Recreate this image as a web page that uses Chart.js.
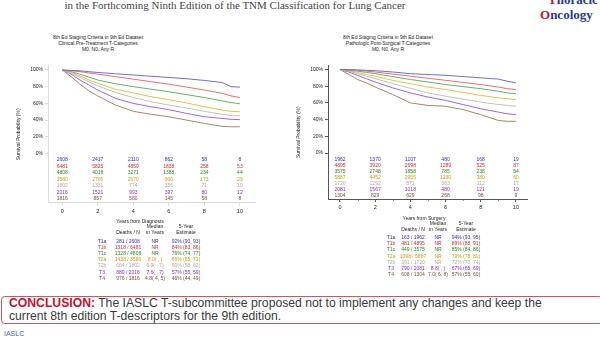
<!DOCTYPE html>
<html>
<head>
<meta charset="utf-8">
<script src="https://cdn.jsdelivr.net/npm/chart.js@4.4.1/dist/chart.umd.min.js"></script>
<style>
  body { margin: 0; width: 600px; height: 338px; overflow: hidden; background: #fff;
         font-family: Arial, "Liberation Sans", sans-serif; position: relative; }
  .abs { position: absolute; white-space: nowrap; }
  .c { transform: translateX(-50%); }
  #headline { left: 235px; top: -1px; font: 11px "Liberation Serif", "Times New Roman", serif; color: #444; }
  #logo1 { left: 548px; top: -8px; font: bold 13px "Liberation Serif", serif; color: #2b3b8c; }
  #logo2 { left: 540px; top: 7px; font: bold 13px "Liberation Serif", serif; color: #2b3b8c; }
  .red { color: #c8102e; }
  .ctitle { font-size: 5px; line-height: 6px; color: #222; text-align: center; }
  canvas { position: absolute; }
  .tbl { font-size: 5px; line-height: 6px; color: #222; }
  #conclusion { left: 1px; top: 296px; width: 593px; height: 26px; border: 1.5px solid #d9515f;
                border-radius: 4px; font-size: 12.2px; line-height: 13px; color: #3a3a3a;
                padding: 0 0 0 7px; box-sizing: content-box; }
  #conclusion b { color: #c8102e; }
  #foot { left: 4px; top: 330px; font-size: 7px; color: #4a63c0; }
</style>
</head>
<body>
<div id="headline" class="abs c">in the Forthcoming Ninth Edition of the TNM Classification for Lung Cancer</div>
<div id="logo1" class="abs"><span class="red">T</span>horacic</div>
<div id="logo2" class="abs"><span class="red">O</span>ncology</div>

<div class="abs c ctitle" style="left:98px; top:34px">8th Ed Staging Criteria in 9th Ed Dataset<br>Clinical Pre-Treatment T-Categories<br>M0, N0, Any R</div>
<div class="abs c ctitle" style="left:388px; top:34px">8th Ed Staging Criteria in 9th Ed Dataset<br>Pathologic Post-Surgical T-Categories<br>M0, N0, Any R</div>

<canvas id="clinical" width="290" height="200" style="left:0; top:28px"></canvas>
<canvas id="pathologic" width="260" height="200" style="left:280px; top:28px"></canvas>

<div id="clinicalTable"></div>
<div id="pathologicTable"></div>

<div id="conclusion" class="abs"><b>CONCLUSION:</b> The IASLC T-subcommittee proposed not to implement any changes and keep the<br>current 8th edition T-descriptors for the 9th edition.</div>
<div id="foot" class="abs">IASLC</div>

<script>
// follow-up times (years) at which the survival curves are sampled
const years = [0, 0.5, 1, 1.5, 2, 3, 4, 5, 6, 7, 8, 9, 9.5, 10];
const tickYears = [0, 2, 4, 6, 8, 10];
const percentTicks = [0, 20, 40, 60, 80, 100];
const categories = ['T1a', 'T1b', 'T1c', 'T2a', 'T2b', 'T3', 'T4'];
const lineColors = ['#6a6af2', '#f26a6a', '#5cb85c', '#eabf40', '#c0c0c0', '#a860e2', '#b08460'];
const textColors = ['#2c2cd8', '#e02424', '#1f8f1f', '#d09a00', '#a8a8a8', '#8a2ad0', '#7a5030'];

// clinical (pre-treatment) survival, %
const clinT1a = [100, 99.5, 99, 98, 97, 95.5, 94, 92.5, 91, 89.5, 87.5, 85, 80, 79.5];
const clinT1b = [100, 99, 98, 96.5, 95, 92, 89, 86, 83, 79.5, 76, 72, 69, 67];
const clinT1c = [100, 98, 95, 91.5, 88, 83.5, 80, 77, 74, 70.5, 67, 63, 61, 59.5];
const clinT2a = [100, 97, 93, 88, 84, 77, 72.5, 68, 64.5, 60.5, 56, 52, 50.5, 50];
const clinT2b = [100, 96, 91, 86, 81, 73, 67, 62, 58, 54.5, 50.5, 47, 45.5, 45];
const clinT3 = [100, 95, 88, 82, 76, 66, 60, 56, 52.5, 48, 44, 42, 41, 40.5];
const clinT4 = [100, 92, 83, 75, 69, 58, 50.5, 47, 44, 40, 36, 32.5, 32, 32];

// pathologic (post-surgical) survival, %
const pathT1a = [100, 99.8, 99.5, 99, 98.5, 97, 95, 94, 93, 91.5, 90, 88.5, 86, 84];
const pathT1b = [100, 99.5, 99, 98, 97, 94.5, 92, 89.5, 87, 84.5, 82, 79, 77, 76];
const pathT1c = [100, 99, 98, 96.5, 95, 91.5, 88, 85, 82, 79.5, 77, 74, 72, 71];
const pathT2a = [100, 98.5, 96.5, 94, 92, 87, 83, 79, 76, 72.5, 69, 66, 65, 64];
const pathT2b = [100, 98, 95, 92, 89, 83, 77.5, 72, 68, 64.5, 61, 58, 57, 56];
const pathT3 = [100, 97, 93, 89, 85, 78, 72, 67, 63, 58, 53, 49, 47, 46];
const pathT4 = [100, 94, 88, 84, 79, 70, 60, 57, 56, 52, 46, 39, 38, 38];

// numbers at risk at 0, 2, 4, 6, 8, 10 years
const clinAtRisk = [
  [2608, 2417, 2110, 862, 58, 8],
  [6481, 5825, 4859, 1838, 258, 53],
  [4808, 4018, 3271, 1388, 234, 44],
  [3580, 2795, 2070, 900, 173, 29],
  [1802, 1331, 774, 356, 71, 10],
  [2016, 1521, 993, 397, 80, 12],
  [1816, 857, 580, 145, 58, 8]
];
const pathAtRisk = [
  [1962, 1370, 1107, 480, 168, 19],
  [4895, 3920, 2698, 1289, 525, 87],
  [3575, 2748, 1858, 785, 238, 54],
  [5887, 4452, 2955, 1230, 380, 60],
  [1720, 1292, 871, 383, 112, 17],
  [2081, 1567, 1018, 480, 121, 19],
  [1304, 829, 629, 258, 98, 9]
];

// summary columns: deaths / N, median survival, 5-year estimate
const clinDeaths = ['281 / 2608', '1318 / 6481', '1328 / 4808', '1438 / 3580', '664 / 1802', '889 / 2016', '976 / 1816'];
const clinMedian = ['NR', 'NR', 'NR', '8.0( , )', '6.9( , 7)', '7.6( , 7)', '4.8( 4, 5)'];
const clinFiveYear = ['92% (90, 93)', '84% (83, 86)', '76% (74, 77)', '66% (65, 71)', '60% (58, 62)', '57% (55, 59)', '46% (44, 49)'];
const pathDeaths = ['163 / 1962', '481 / 4895', '449 / 3575', '1098 / 5887', '391 / 1720', '790 / 2081', '608 / 1304'];
const pathMedian = ['NR', 'NR', 'NR', 'NR', 'NR', '8.8( , )', '7.0( 6, 8)'];
const pathFiveYear = ['94% (93, 95)', '89% (88, 91)', '85% (84, 86)', '79% (78, 80)', '72% (70, 74)', '67% (65, 69)', '57% (55, 60)'];

const riskTable = {
  id: 'riskTable',
  afterDraw(chart, args, o) {
    const { ctx, scales: { x, y } } = chart;
    ctx.save();
    ctx.font = '5px Arial';
    ctx.textAlign = 'center';
    ctx.textBaseline = 'middle';
    o.rows.forEach((row, i) => {
      ctx.fillStyle = textColors[i];
      row.forEach((n, j) => ctx.fillText(String(n), x.getPixelForValue(tickYears[j]), y.getPixelForValue(0) + o.top + i * o.gap));
    });
    // minor ticks on the time axis
    if (o.minor) {
      ctx.strokeStyle = o.axisColor;
      ctx.lineWidth = 0.8;
      [1, 3, 5, 7, 9].forEach(v => {
        const px = Math.round(x.getPixelForValue(v)) + 0.5;
        ctx.beginPath(); ctx.moveTo(px, y.bottom); ctx.lineTo(px, y.bottom + 1.8); ctx.stroke();
      });
    }
    ctx.restore();
  }
};

function kmChart(id, series, atRisk, opt) {
  return new Chart(document.getElementById(id), {
    type: 'line',
    data: {
      datasets: series.map((s, i) => ({
        label: categories[i],
        data: years.map((t, j) => ({ x: t, y: s[j] })),
        borderColor: lineColors[i],
        borderWidth: 1,
        pointRadius: 0,
        tension: 0,
        fill: false
      }))
    },
    options: {
      animation: false,
      responsive: false,
      events: [],
      layout: { padding: { left: 16, top: opt.padTop, right: opt.padRight, bottom: opt.padBottom } },
      plugins: {
        legend: { display: false },
        tooltip: { enabled: false },
        riskTable: { rows: atRisk, top: opt.riskTop, gap: opt.riskGap, minor: opt.minor, axisColor: opt.axisColor }
      },
      scales: {
        x: {
          type: 'linear', min: opt.xMin, max: opt.xMax,
          afterBuildTicks: s => { s.ticks = tickYears.map(v => ({ value: v })); },
          afterFit: s => { s.height = opt.xHeight; },
          grid: { drawOnChartArea: false, tickLength: 3, color: opt.axisColor },
          border: { color: opt.axisColor, width: 1 },
          ticks: { font: { size: 5.5, family: 'Arial' }, color: '#222', padding: 2, maxRotation: 0, autoSkip: false }
        },
        y: {
          min: opt.yMin, max: 105,
          afterBuildTicks: s => { s.ticks = percentTicks.map(v => ({ value: v })); },
          afterFit: s => { s.width = 32; },
          grid: { drawOnChartArea: false, tickLength: 3, color: opt.axisColor },
          border: { color: opt.axisColor, width: 1 },
          ticks: { font: { size: 5, family: 'Arial' }, color: '#222', padding: 2, callback: v => v + '%' },
          title: { display: true, text: 'Survival Probability (%)', font: { size: 5, family: 'Arial' }, color: '#222', padding: 0 }
        }
      }
    },
    plugins: [riskTable]
  });
}

kmChart('clinical', [clinT1a, clinT1b, clinT1c, clinT2a, clinT2b, clinT3, clinT4], clinAtRisk, {
  xMin: -0.8, xMax: 10.85, yMin: -59, padTop: 37.8, padRight: 35, padBottom: 13.2, xHeight: 12,
  riskTop: 6.5, riskGap: 6.5, minor: false, axisColor: '#dcdcdc'
});
kmChart('pathologic', [pathT1a, pathT1b, pathT1c, pathT2a, pathT2b, pathT3, pathT4], pathAtRisk, {
  xMin: -0.68, xMax: 10.63, yMin: -55, padTop: 37.3, padRight: 13, padBottom: 17, xHeight: 12,
  riskTop: 7, riskGap: 6, minor: true, axisColor: '#555'
});

// survival summary tables under each plot
function summary(el, o) {
  const add = (text, x, y, color) => {
    const d = document.createElement('div');
    d.className = 'abs c tbl';
    d.style.left = x + 'px';
    d.style.top = y + 'px';
    if (color) d.style.color = color;
    d.textContent = text;
    el.appendChild(d);
  };
  add(o.caption, o.captionX, o.y0);
  add('Median', o.cols[2], o.y0 + 5);
  add('5-Year', o.cols[3], o.y0 + 5);
  add('Deaths / N', o.cols[1], o.y0 + 11);
  add('in Years', o.cols[2], o.y0 + 11);
  add('Estimate', o.cols[3], o.y0 + 11);
  categories.forEach((c, i) => {
    const y = o.rowY + i * o.rowGap;
    add(c, o.cols[0], y, textColors[i]);
    add(o.deaths[i], o.cols[1], y, textColors[i]);
    add(o.median[i], o.cols[2], y, textColors[i]);
    add(o.five[i], o.cols[3], y, textColors[i]);
  });
}
summary(document.getElementById('clinicalTable'), {
  caption: 'Years from Diagnosis', captionX: 140, y0: 218, rowY: 237.5, rowGap: 6.2,
  cols: [102, 128, 155, 186], deaths: clinDeaths, median: clinMedian, five: clinFiveYear
});
summary(document.getElementById('pathologicTable'), {
  caption: 'Years from Surgery', captionX: 424, y0: 215, rowY: 234, rowGap: 6.2,
  cols: [391, 413, 438, 466], deaths: pathDeaths, median: pathMedian, five: pathFiveYear
});
</script>
</body>
</html>
